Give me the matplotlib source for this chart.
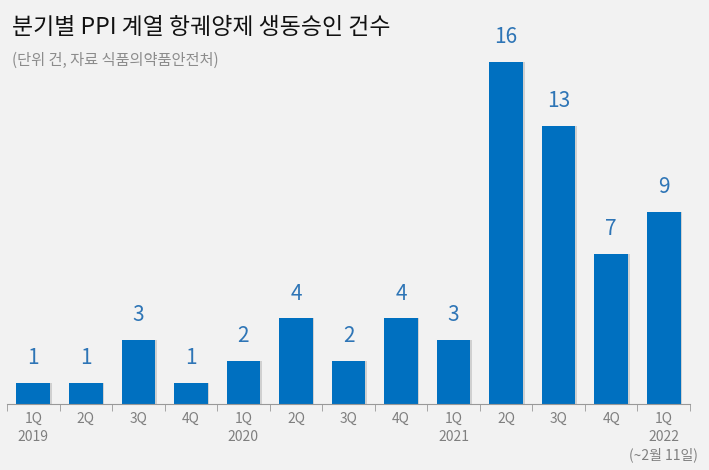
import matplotlib.pyplot as plt
import numpy as np

plt.rcParams['font.family'] = ['Noto Sans CJK KR', 'DejaVu Sans']

# Data
quarters = ['1Q\n2019', '2Q', '3Q', '4Q', '1Q\n2020', '2Q', '3Q', '4Q',
            '1Q\n2021', '2Q', '3Q', '4Q', '1Q\n2022\n(~2월 11일)']
counts = [1, 1, 3, 1, 2, 4, 2, 4, 3, 16, 13, 7, 9]

bg = '#f2f2f2'
bar_color = '#0070c0'
label_color = '#2e75b6'

fig = plt.figure(figsize=(7.09, 4.70), dpi=100, facecolor=bg)
ax = fig.add_axes([7 / 709, 66 / 470, 683 / 709, 0.819])
ax.set_facecolor(bg)

x = np.arange(len(counts))
# faint shadow on the right side of each bar
ax.bar(x + 0.03, counts, width=0.64, color='#d0d0d0', zorder=1)
ax.bar(x, counts, width=0.64, color=bar_color, zorder=2)

for xi, v in zip(x, counts):
    ax.annotate(str(v), (xi, v), xytext=(0, 10), textcoords='offset points',
                ha='center', va='bottom', fontsize=15, color=label_color,
                fontweight='light')

ax.set_xlim(-0.5, len(counts) - 0.5)
ax.set_ylim(0, 18)
ax.set_yticks([])
for s in ['top', 'right', 'left']:
    ax.spines[s].set_visible(False)
ax.spines['bottom'].set_color('#999999')

ax.set_xticks(x)
ax.set_xticklabels(quarters, fontsize=10, color='#7f7f7f', linespacing=1.3)
ax.tick_params(axis='x', which='major', length=0, pad=6)
ax.set_xticks(np.arange(-0.5, len(counts), 1), minor=True)
ax.tick_params(axis='x', which='minor', length=5, color='#999999', direction='out')

fig.text(12 / 709, 1 - 28 / 470, '분기별 PPI 계열 항궤양제 생동승인 건수',
         fontsize=16.5, color='#111111', va='center', ha='left')
fig.text(12 / 709, 1 - 60 / 470, '(단위 건, 자료 식품의약품안전처)',
         fontsize=11, color='#8c8c8c', va='center', ha='left')

fig.savefig('out.png', dpi=100, facecolor=bg)
